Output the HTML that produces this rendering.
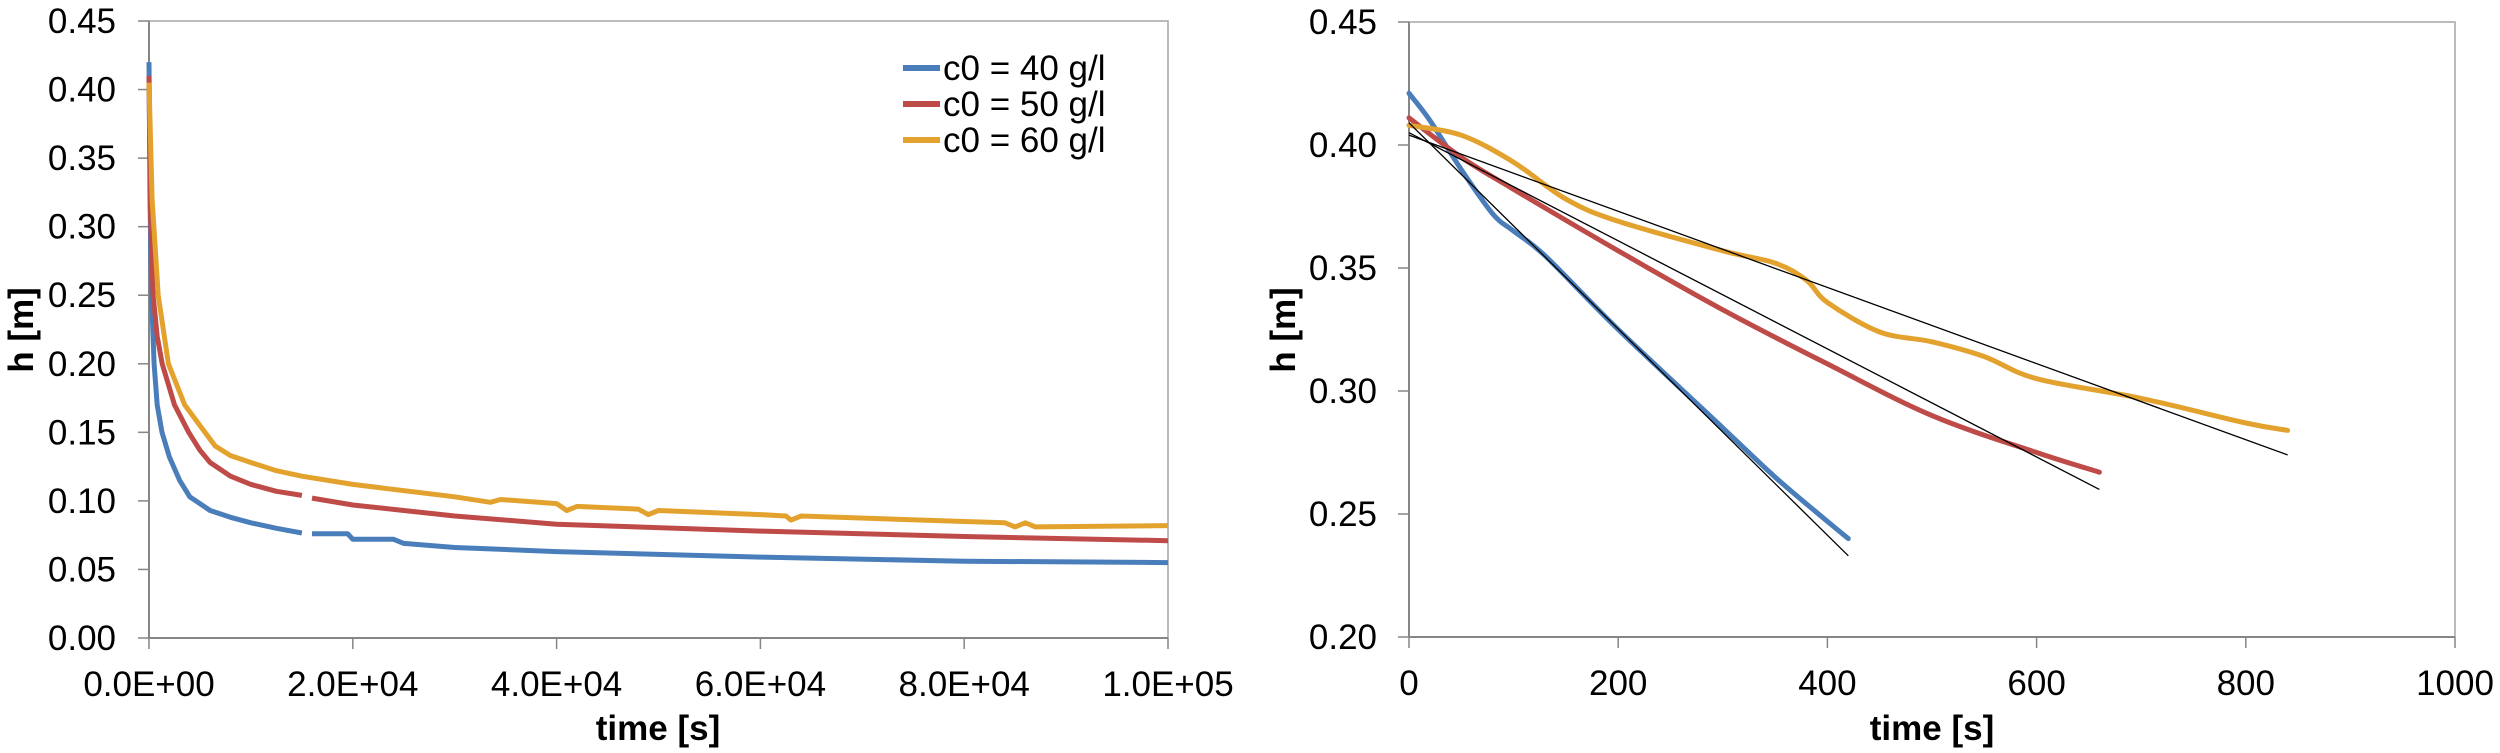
<!DOCTYPE html>
<html><head><meta charset="utf-8"><style>
html,body{margin:0;padding:0;background:#fff;}
svg{display:block;}
text{font-family:"Liberation Sans Narrow","Liberation Sans",sans-serif;fill:#000;}
</style></head><body>
<svg id="chart" width="2500" height="753" viewBox="0 0 2500 753" xmlns="http://www.w3.org/2000/svg"></svg>
<script>
// ---- Left chart data ----
const leftYTicks = [0, 0.05, 0.10, 0.15, 0.20, 0.25, 0.30, 0.35, 0.40, 0.45];
const leftXTicks = [0, 20000, 40000, 60000, 80000, 100000];
const leftXLabels = ["0.0E+00","2.0E+04","4.0E+04","6.0E+04","8.0E+04","1.0E+05"];
const seriesNames = ["c0 = 40 g/l","c0 = 50 g/l","c0 = 60 g/l"];
const seriesColors = ["#4a7ebb","#be4b48","#e3a22e"];
const blueT = [0,100,250,500,800,1280,2000,3000,4000,6000,8000,10000,12500,15000];
const blueH = [0.42,0.32,0.25,0.20,0.17,0.15,0.132,0.115,0.103,0.093,0.088,0.084,0.080,0.0766];
const blueT2 = [16000,19500,20000,24000,25000,30000,40000,60000,80000,100000];
const blueH2 = [0.076,0.076,0.072,0.072,0.069,0.066,0.063,0.059,0.056,0.055];
const redT = [0,150,400,800,1300,2500,3900,5000,6000,8000,10000,12500,15000];
const redH = [0.41,0.31,0.25,0.22,0.20,0.17,0.15,0.137,0.128,0.118,0.112,0.107,0.104];
const redT2 = [16000,20000,25000,30000,40000,60000,80000,100000];
const redH2 = [0.102,0.097,0.093,0.089,0.083,0.078,0.074,0.071];
const orT = [0,300,900,1900,3500,5000,6500,8000,10000,12500,15000,20000,30000,33500,34500,40000,41000,42000,48000,49000,50000,60000,62500,63000,64000,80000,84000,85000,86000,87000,100000];
const orH = [0.405,0.32,0.25,0.20,0.17,0.155,0.14,0.133,0.128,0.122,0.118,0.112,0.103,0.099,0.101,0.098,0.093,0.096,0.094,0.090,0.093,0.090,0.089,0.086,0.089,0.085,0.084,0.081,0.084,0.081,0.082];
// ---- Right chart data ----
const rightYTicks = [0.20,0.25,0.30,0.35,0.40,0.45];
const rightXTicks = [0,200,400,600,800,1000];
const rBlueT = [0,20,50,80,100,130,200,300,350,400,420];
const rBlueH = [0.421,0.41,0.39,0.372,0.365,0.355,0.325,0.285,0.265,0.247,0.24];
const rRedT = [0,50,100,200,300,400,500,600,660];
const rRedH = [0.411,0.395,0.382,0.357,0.333,0.311,0.29,0.275,0.267];
const rOrT = [0,50,100,150,200,300,350,380,400,450,500,550,600,700,800,840];
const rOrH = [0.408,0.404,0.393,0.378,0.369,0.357,0.352,0.345,0.336,0.324,0.320,0.314,0.305,0.297,0.287,0.284];
const fitT0 = [0,0,0];
const fitH0 = [0.409,0.405,0.404];
const fitT1 = [420,660,840];
const fitH1 = [0.233,0.260,0.274];

const NS="http://www.w3.org/2000/svg";
const svg=document.getElementById('chart');
function el(tag,attrs,parent){const e=document.createElementNS(NS,tag);for(const k in attrs)e.setAttribute(k,attrs[k]);(parent||svg).appendChild(e);return e;}

function linPath(T,H,sx,sy){return T.map((t,i)=>(i?'L':'M')+sx(t).toFixed(1)+' '+sy(H[i]).toFixed(1)).join(' ');}
function smoothPath(T,H,sx,sy){
  const p=T.map((t,i)=>[sx(t),sy(H[i])]);
  let d='M'+p[0][0].toFixed(1)+' '+p[0][1].toFixed(1);
  for(let i=0;i<p.length-1;i++){
    const p0=p[i-1]||p[i],p1=p[i],p2=p[i+1],p3=p[i+2]||p[i+1];
    const c1=[p1[0]+(p2[0]-p0[0])/6,p1[1]+(p2[1]-p0[1])/6];
    const c2=[p2[0]-(p3[0]-p1[0])/6,p2[1]-(p3[1]-p1[1])/6];
    d+=' C'+c1[0].toFixed(1)+' '+c1[1].toFixed(1)+' '+c2[0].toFixed(1)+' '+c2[1].toFixed(1)+' '+p2[0].toFixed(1)+' '+p2[1].toFixed(1);
  }
  return d;
}

function axes(g,x0,x1,y0,y1,sx,sy,xt,xl,yt,fmtY,xlabelX,ylabelX,ytickLabelEnd){
  const frame=el('rect',{x:x0,y:y1,width:x1-x0,height:y0-y1,fill:'none',stroke:'#a6a6a6','stroke-width':1.5},g);
  
  
  const xa=el('line',{x1:x0,y1:y0,x2:x1,y2:y0,stroke:'#868686','stroke-width':2},g);
  
  
  const ya=el('line',{x1:x0,y1:y0,x2:x0,y2:y1,stroke:'#868686','stroke-width':2},g);
  
  
  xt.forEach((v,i)=>{
    const x=sx(v);
    const tk=el('line',{x1:x,y1:y0,x2:x,y2:y0+11,stroke:'#868686','stroke-width':1.5},g);
    
    
    const t=el('text',{x:x,y:y0+58,'font-size':35,'text-anchor':'middle'},g);
    t.textContent=xl[i];
    
    
  });
  yt.forEach(v=>{
    const y=sy(v);
    const tk=el('line',{x1:x0-11,y1:y,x2:x0,y2:y,stroke:'#868686','stroke-width':1.5},g);
    
    
    const t=el('text',{x:ytickLabelEnd,y:y+12,'font-size':35,'text-anchor':'end'},g);
    t.textContent=fmtY(v);
    
    
  });
  const xtl=el('text',{x:xlabelX,y:740,'font-size':35,'font-weight':'bold','text-anchor':'middle'},g);
  xtl.textContent='time [s]';
  
  
  const ytl=el('text',{x:0,y:0,'font-size':35,'font-weight':'bold','text-anchor':'middle',transform:'translate('+ylabelX+',330) rotate(-90)'},g);
  ytl.textContent='h [m]';
  
  
}

// Left chart
const L={x0:149,x1:1168,y0:638,y1:21};
const lsx=t=>L.x0+(t/100000)*(L.x1-L.x0);
const lsy=h=>L.y0-(h/0.45)*(L.y0-L.y1);
const gl=el('g',{});


axes(gl,L.x0,L.x1,L.y0,L.y1,lsx,lsy,leftXTicks,leftXLabels,leftYTicks,v=>v.toFixed(2),658,33,116);
const leftSeries=[[blueT,blueH,0],[blueT2,blueH2,0],[redT,redH,1],[redT2,redH2,1],[orT,orH,2]];
leftSeries.forEach(s=>{
  const p=el('path',{d:linPath(s[0],s[1],lsx,lsy),fill:'none',stroke:seriesColors[s[2]],'stroke-width':5,'stroke-linejoin':'round'},gl);
  
  
});
// Legend
const lg=el('g',{},gl);


seriesNames.forEach((n,i)=>{
  const y=68+i*36;
  const ln=el('line',{x1:903,y1:y,x2:940,y2:y,stroke:seriesColors[i],'stroke-width':6},lg);
  
  
  const t=el('text',{x:943,y:y+12,'font-size':35},lg);
  t.textContent=n;
  
  
});

// Right chart
const R={x0:1409,x1:2455,y0:637,y1:22};
const rsx=t=>R.x0+(t/1000)*(R.x1-R.x0);
const rsy=h=>R.y0-((h-0.2)/0.25)*(R.y0-R.y1);
const gr=el('g',{});


axes(gr,R.x0,R.x1,R.y0,R.y1,rsx,rsy,rightXTicks,rightXTicks.map(String),rightYTicks,v=>v.toFixed(2),1932,1295,1377);
[[rBlueT,rBlueH,0],[rRedT,rRedH,1],[rOrT,rOrH,2]].forEach(s=>{
  const p=el('path',{d:smoothPath(s[0],s[1],rsx,rsy),fill:'none',stroke:seriesColors[s[2]],'stroke-width':5,'stroke-linecap':'round'},gr);
  
  
});
fitT0.forEach((t,i)=>{
  const l=el('line',{x1:rsx(t),y1:rsy(fitH0[i]),x2:rsx(fitT1[i]),y2:rsy(fitH1[i]),stroke:'#000','stroke-width':1.3},gr);
  
  
});
</script>
</body></html>
